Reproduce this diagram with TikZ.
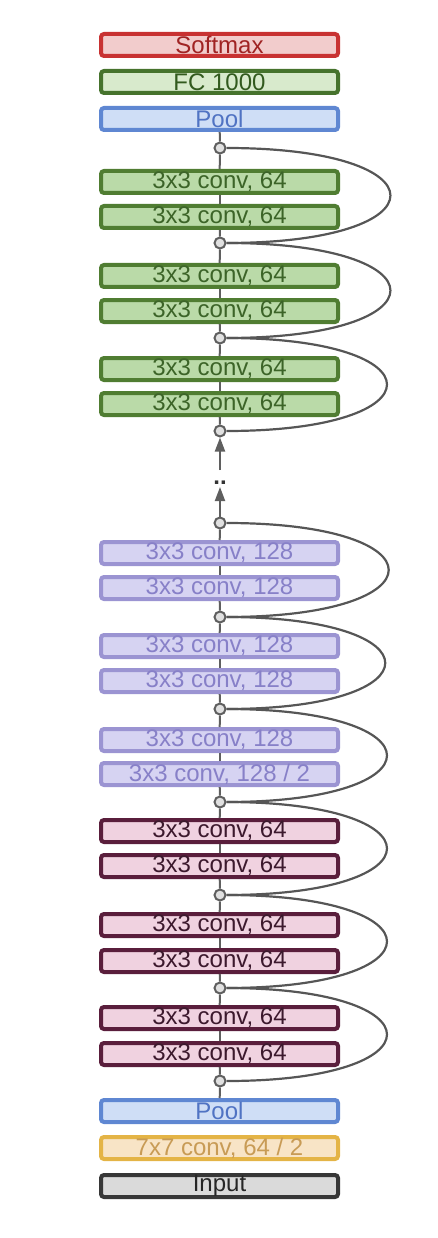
\documentclass[tikz,border=0pt]{standalone}
\usepackage{fontspec}
\setmainfont{Liberation Sans}
\usepackage{tikz}
\usetikzlibrary{arrows.meta}

\definecolor{smaxline}{RGB}{200,50,50}
\definecolor{smaxfill}{RGB}{242,204,204}
\definecolor{smaxtext}{RGB}{160,35,35}
\definecolor{fcline}{RGB}{70,115,45}
\definecolor{fcfill}{RGB}{216,234,204}
\definecolor{fctext}{RGB}{50,90,30}
\definecolor{poolline}{RGB}{95,135,210}
\definecolor{poolfill}{RGB}{207,222,246}
\definecolor{pooltext}{RGB}{80,115,195}
\definecolor{gline}{RGB}{80,125,50}
\definecolor{gfill}{RGB}{186,218,168}
\definecolor{gtext}{RGB}{60,100,40}
\definecolor{pline}{RGB}{155,148,210}
\definecolor{pfill}{RGB}{214,211,242}
\definecolor{ptext}{RGB}{135,128,200}
\definecolor{mline}{RGB}{90,30,60}
\definecolor{mfill}{RGB}{240,210,224}
\definecolor{mtext}{RGB}{60,25,45}
\definecolor{cline}{RGB}{228,180,70}
\definecolor{cfill}{RGB}{248,228,198}
\definecolor{ctext}{RGB}{200,155,85}
\definecolor{iline}{RGB}{55,55,55}
\definecolor{ifill}{RGB}{218,218,218}
\definecolor{wire}{RGB}{95,95,95}

\tikzset{
  layerbox/.style={draw, line width=4pt, rounded corners=3pt, inner sep=0pt,
    minimum width=237pt, minimum height=22pt, font=\fontsize{24}{26}\selectfont},
  smaxbox/.style={layerbox, draw=smaxline, fill=smaxfill, text=smaxtext},
  fcbox/.style={layerbox, draw=fcline, fill=fcfill, text=fctext},
  poolbox/.style={layerbox, draw=poolline, fill=poolfill, text=pooltext},
  gconv/.style={layerbox, draw=gline, fill=gfill, text=gtext},
  pconv/.style={layerbox, draw=pline, fill=pfill, text=ptext},
  mconv/.style={layerbox, draw=mline, fill=mfill, text=mtext},
  bigconv/.style={layerbox, draw=cline, fill=cfill, text=ctext},
  inbox/.style={layerbox, draw=iline, fill=ifill, text=black!85},
  junc/.style={draw=wire, fill=black!12, circle, line width=2pt, inner sep=0pt, minimum size=11pt},
  wireline/.style={draw=wire, line width=2pt},
  shortcut/.style={draw=wire!90!black, line width=2.2pt, out=0, in=0, looseness=5.9},
  uparrow/.style={wireline, -{Triangle[length=14pt, width=10pt]}}
}

\begin{document}
\begin{tikzpicture}[x=1pt, y=-1pt]
		\useasboundingbox (0,0) rectangle (437,1238);
		
		\node[smaxbox] (softmax) at (219.5,45) {Softmax};
		\node[fcbox] (fc) at (219.5,82) {FC 1000};
		\node[poolbox] (pooltop) at (219.5,119) {Pool};
		
		\node[junc] (j1) at (220,148) {};
		\node[gconv] (g1a) at (219.5,182) {3x3 conv, 64};
		\node[gconv] (g1b) at (219.5,217) {3x3 conv, 64};
		\node[junc] (j2) at (220,243) {};
		\node[gconv] (g2a) at (219.5,276) {3x3 conv, 64};
		\node[gconv] (g2b) at (219.5,311) {3x3 conv, 64};
		\node[junc] (j3) at (220,338) {};
		\node[gconv] (g3a) at (219.5,369) {3x3 conv, 64};
		\node[gconv] (g3b) at (219.5,404) {3x3 conv, 64};
		\node[junc] (j4) at (220,431) {};
		
		\coordinate (a1) at (220,470);
		\node[text=black!80, font=\fontsize{24}{24}\selectfont\bfseries] (dots) at (220,483) {..};
		\coordinate (a2) at (220,487);
		
		\node[junc] (j5) at (220,523) {};
		\node[pconv] (p1a) at (219.5,553) {3x3 conv, 128};
		\node[pconv] (p1b) at (219.5,588) {3x3 conv, 128};
		\node[junc] (j6) at (220,617) {};
		\node[pconv] (p2a) at (219.5,646) {3x3 conv, 128};
		\node[pconv] (p2b) at (219.5,681) {3x3 conv, 128};
		\node[junc] (j7) at (220,709) {};
		\node[pconv] (p3a) at (219.5,740) {3x3 conv, 128};
		\node[pconv] (p3b) at (219.5,774) {3x3 conv, 128 / 2};
		\node[junc] (j8) at (220,802) {};
		
		\node[mconv] (m1a) at (219.5,831) {3x3 conv, 64};
		\node[mconv] (m1b) at (219.5,866) {3x3 conv, 64};
		\node[junc] (j9) at (220,895) {};
		\node[mconv] (m2a) at (219.5,925) {3x3 conv, 64};
		\node[mconv] (m2b) at (219.5,961) {3x3 conv, 64};
		\node[junc] (j10) at (220,988) {};
		\node[mconv] (m3a) at (219.5,1018) {3x3 conv, 64};
		\node[mconv] (m3b) at (219.5,1054) {3x3 conv, 64};
		\node[junc] (j11) at (220,1081) {};
		
		\node[poolbox] (poolbot) at (219.5,1111) {Pool};
		\node[bigconv] (conv7) at (219.5,1148) {7x7 conv, 64 / 2};
		\node[inbox] (input) at (219.5,1186) {Input};
		
		% main path
		\draw[wireline] (poolbot) -- (j11);
		\draw[wireline] (j11) -- (m3b);
		\draw[wireline] (m3b) -- (m3a);
		\draw[wireline] (m3a) -- (j10);
		\draw[wireline] (j10) -- (m2b);
		\draw[wireline] (m2b) -- (m2a);
		\draw[wireline] (m2a) -- (j9);
		\draw[wireline] (j9) -- (m1b);
		\draw[wireline] (m1b) -- (m1a);
		\draw[wireline] (m1a) -- (j8);
		\draw[wireline] (j8) -- (p3b);
		\draw[wireline] (p3b) -- (p3a);
		\draw[wireline] (p3a) -- (j7);
		\draw[wireline] (j7) -- (p2b);
		\draw[wireline] (p2b) -- (p2a);
		\draw[wireline] (p2a) -- (j6);
		\draw[wireline] (j6) -- (p1b);
		\draw[wireline] (p1b) -- (p1a);
		\draw[wireline] (p1a) -- (j5);
		\draw[uparrow] (j5) -- (a2);
		\draw[uparrow] (a1) -- (j4);
		\draw[wireline] (j4) -- (g3b);
		\draw[wireline] (g3b) -- (g3a);
		\draw[wireline] (g3a) -- (j3);
		\draw[wireline] (j3) -- (g2b);
		\draw[wireline] (g2b) -- (g2a);
		\draw[wireline] (g2a) -- (j2);
		\draw[wireline] (j2) -- (g1b);
		\draw[wireline] (g1b) -- (g1a);
		\draw[wireline] (g1a) -- (j1);
		\draw[wireline] (j1) -- (pooltop);
		
		% shortcuts
		\draw[shortcut] (j1.east) to (j2.east);
		\draw[shortcut] (j2.east) to (j3.east);
		\draw[shortcut] (j3.east) to (j4.east);
		\draw[shortcut] (j5.east) to (j6.east);
		\draw[shortcut] (j6.east) to (j7.east);
		\draw[shortcut] (j7.east) to (j8.east);
		\draw[shortcut] (j8.east) to (j9.east);
		\draw[shortcut] (j9.east) to (j10.east);
		\draw[shortcut] (j10.east) to (j11.east);
		\end{tikzpicture}
\end{document}
